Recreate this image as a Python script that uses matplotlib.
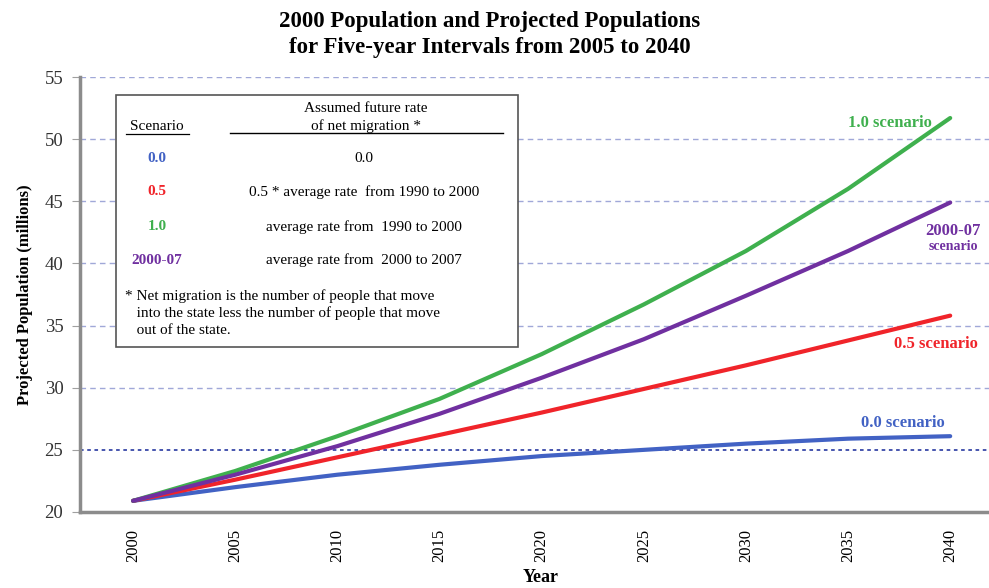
import numpy as np
import matplotlib.pyplot as plt
from matplotlib.patches import Rectangle
from matplotlib.lines import Line2D

years = [2000, 2005, 2010, 2015, 2020, 2025, 2030, 2035, 2040]
pop_00 = [20.9, 22.0, 23.0, 23.8, 24.5, 25.0, 25.5, 25.9, 26.1]
pop_05 = [20.9, 22.6, 24.4, 26.2, 28.0, 29.9, 31.8, 33.8, 35.8]
pop_10 = [20.9, 23.3, 26.1, 29.1, 32.7, 36.7, 41.0, 46.0, 51.7]
pop_0007 = [20.9, 23.0, 25.3, 27.9, 30.8, 33.9, 37.4, 41.0, 44.9]

c_blue = '#4262c4'
c_red = '#f0242a'
c_green = '#3fb04e'
c_purple = '#7030a0'

plt.rcParams['font.family'] = ['Liberation Serif', 'DejaVu Serif']

W, H = 989, 588
fig = plt.figure(figsize=(W / 100, H / 100), dpi=100)
ax = fig.add_axes([80 / W, 1 - 512 / H, 1 - 80 / W, (512 - 77) / H])


def fx(x):
    return x / W


def fy(y):
    return 1 - y / H


for v in [30, 35, 40, 45, 50, 55]:
    ax.axhline(v, color='#a0a8d8', linestyle=(0, (4, 3)), linewidth=1, zorder=0)
ax.axhline(25, color='#3848a8', linestyle=(0, (2, 2)), linewidth=1.3, zorder=0)

for vals, col in [(pop_00, c_blue), (pop_05, c_red), (pop_10, c_green), (pop_0007, c_purple)]:
    ax.plot(years, vals, color=col, linewidth=3, solid_capstyle='round', zorder=3)

ax.set_xlim(1997.4, 2041.9)
ax.set_ylim(20, 55)
ax.set_xticks(years)
ax.set_xticklabels([str(y) for y in years], rotation=90, fontsize=12)
ax.set_yticks([20, 25, 30, 35, 40, 45, 50, 55])
ax.tick_params(axis='x', length=0, pad=12)
ax.tick_params(axis='y', length=6, color='#a0a0a0', labelsize=13.5, labelcolor='#333333', pad=6)
for s in ['top', 'right']:
    ax.spines[s].set_visible(False)
for s in ['left', 'bottom']:
    ax.spines[s].set_color('#8c8c8c')
    ax.spines[s].set_linewidth(2.5)

ax.set_ylabel('Projected Population (millions)', fontsize=12, fontweight='bold', labelpad=8)
fig.text(fx(541), fy(578), 'Year', ha='center', va='center', fontsize=13, fontweight='bold')

fig.text(fx(490), fy(22), '2000 Population and Projected Populations', ha='center', va='center',
         fontsize=16.5, fontweight='bold')
fig.text(fx(490), fy(47), 'for Five-year Intervals from 2005 to 2040', ha='center', va='center',
         fontsize=16.5, fontweight='bold')

# legend table box
box = Rectangle((fx(116), fy(347)), fx(518) - fx(116), fy(95) - fy(347), transform=fig.transFigure,
                facecolor='white', edgecolor='#555555', linewidth=1.2, zorder=5)
fig.patches.append(box)

tk = dict(ha='center', va='center', fontsize=11, zorder=6)
fig.text(fx(157), fy(127), 'Scenario', **tk)
fig.lines.append(Line2D([fx(126), fx(189)], [fy(134), fy(134)], transform=fig.transFigure,
                        color='k', linewidth=0.9, zorder=7))
fig.text(fx(366), fy(108), 'Assumed future rate', **tk)
fig.text(fx(366), fy(126), 'of net migration *', **tk)
fig.lines.append(Line2D([fx(230), fx(503)], [fy(133), fy(133)], transform=fig.transFigure,
                        color='k', linewidth=1, zorder=7))

rows = [('0.0', c_blue, '0.0', 158),
        ('0.5', c_red, '0.5 * average rate  from 1990 to 2000', 192),
        ('1.0', c_green, 'average rate from  1990 to 2000', 227),
        ('2000-07', c_purple, 'average rate from  2000 to 2007', 260)]
for lab, col, desc, yy in rows:
    fig.text(fx(157), fy(yy), lab, color=col, fontweight='bold', **tk)
    fig.text(fx(364), fy(yy), desc, **tk)

notes = ['* Net migration is the number of people that move',
         '   into the state less the number of people that move',
         '   out of the state.']
for i, n in enumerate(notes):
    fig.text(fx(125), fy(296 + i * 17.5), n, ha='left', va='center', fontsize=11, zorder=6)

# line end labels
fig.text(fx(932), fy(123), '1.0 scenario', color=c_green, ha='right', va='center', fontsize=12, fontweight='bold')
fig.text(fx(953), fy(231), '2000-07', color=c_purple, ha='center', va='center', fontsize=12, fontweight='bold')
fig.text(fx(953), fy(247), 'scenario', color=c_purple, ha='center', va='center', fontsize=10, fontweight='bold')
fig.text(fx(978), fy(344), '0.5 scenario', color=c_red, ha='right', va='center', fontsize=12, fontweight='bold')
fig.text(fx(945), fy(423), '0.0 scenario', color=c_blue, ha='right', va='center', fontsize=12, fontweight='bold')

plt.savefig('out.png', dpi=100)
